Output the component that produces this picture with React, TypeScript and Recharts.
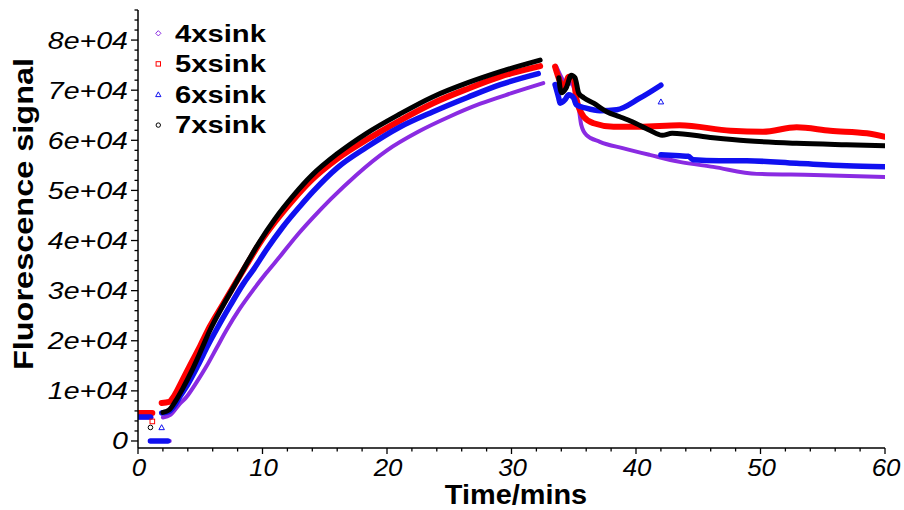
import { ComposedChart, Legend, Line, Scatter, XAxis, YAxis } from "recharts";

const FONT = '"Liberation Sans", Arial, Helvetica, sans-serif';

type Pt = [number, number | null];

// 4xsink (purple)
const sink4: Pt[] = [
  [0, 4700], [1.1, 4700], [1.11, null],
  [0.95, 0], [2.55, 0], [2.56, null],
  [2.0, 4700], [2.6, 5200], [3.35, 7400], [3.9, 8800], [4.7, 11700], [5.5, 14900],
  [6.3, 18500], [7.1, 22100], [8.2, 26500], [9.24, 30100], [10.3, 33500], [11.4, 36800],
  [12.7, 40800], [14.07, 44600], [15.5, 48300], [17.5, 53000], [20, 58000], [22.5, 61700],
  [25, 64700], [27.5, 67300], [30, 69400], [32.55, 71400], [33, null],
  [33.6, 74700], [33.9, 73100], [34.2, 71700], [34.4, 71100], [34.8, 71400], [35.1, 69700],
  [35.4, 66400], [35.6, 63100], [36.0, 61100], [37.1, 59700], [39.0, 58400], [41.1, 57100],
  [43.5, 55700], [46.2, 54700], [49.7, 53300], [54.3, 53100], [60, 52700],
];

// 5xsink (red)
const sink5: Pt[] = [
  [0, 5600], [1.15, 5600], [1.16, null],
  [1.9, 7600], [2.5, 7800], [2.85, 8800], [3.5, 11800], [4.2, 15200], [5.0, 19000],
  [5.76, 22800], [6.8, 27200], [7.9, 31800], [8.8, 35500], [9.78, 39500], [11.0, 43700],
  [12.46, 48100], [14.0, 52200], [16.0, 56300], [18.36, 60100], [21.0, 63900], [23.7, 67400],
  [26.5, 70300], [29.1, 72700], [32.3, 74800], [33, null],
  [33.5, 74700], [33.9, 71700], [34.2, 70400], [34.6, 72700], [35.0, 72400], [35.2, 68400],
  [35.8, 64700], [36.6, 63400], [38.2, 62700], [40.3, 62700], [43.5, 63000], [47.6, 61900],
  [50.2, 61700], [52.9, 62600], [55.6, 61900], [58.55, 61400], [60, 60700],
];

// 6xsink (blue)
const sink6: Pt[] = [
  [0, 4800], [1.0, 4800], [1.01, null],
  [1.0, 0], [2.4, 0], [2.41, null],
  [1.9, 5600], [2.5, 5900], [3.0, 7300], [3.35, 8800], [4.0, 11300], [4.8, 15000],
  [5.6, 19000], [6.43, 22800], [7.4, 27000], [8.44, 31300], [9.3, 34300], [10.3, 38100],
  [11.6, 42600], [13.0, 46800], [14.07, 49800], [16.0, 54500], [18.36, 58600], [21.0, 62600],
  [23.7, 65700], [26.5, 68600], [29.1, 71100], [32.15, 73300], [33, null],
  [33.5, 71100], [33.8, 68400], [33.9, 67400], [34.3, 68100], [34.6, 69100], [35.0, 68400],
  [35.2, 67100], [36.0, 66400], [37.1, 65900], [38.45, 66100], [40.3, 68400], [42.0, 71000],
  [42.01, null],
  [42.0, 57100], [43.5, 56900], [44.2, 56800], [44.6, 56100], [46.7, 55900], [48.9, 55900],
  [52.9, 55400], [56.9, 54900], [60, 54700],
];

// 7xsink (black)
const sink7: Pt[] = [
  [2.0, 5700], [2.5, 6200], [3.0, 7900], [3.6, 10500], [4.3, 13900], [5.0, 17700],
  [5.76, 22000], [6.8, 26900], [7.9, 31700], [8.8, 35700], [9.78, 39800], [11.0, 44300],
  [12.46, 48900], [14.0, 53100], [16.0, 57300], [18.36, 61400], [21.0, 65200], [23.7, 68700],
  [26.5, 71500], [29.1, 73700], [32.3, 76000], [33, null],
  [33.8, 72500], [34.0, 69500], [34.4, 70500], [34.8, 73000], [35.1, 72500], [35.4, 69400],
  [35.8, 68500], [36.6, 67400], [37.65, 65700], [38.7, 64700], [39.7, 63700], [41.1, 62000],
  [42.1, 61000], [42.9, 61400], [46.2, 60500], [48.9, 59900], [52.9, 59400], [56.9, 59100],
  [60, 58900],
];

// lone markers that sit apart from the dense runs
const lone4: Pt[] = [];
const lone5: Pt[] = [[1.15, 3900]];
const lone6: Pt[] = [[1.9, 2700], [42.0, 67700]];
const lone7: Pt[] = [[1.0, 2700]];

const X_MAJOR = [0, 10, 20, 30, 40, 50, 60];
const X_LABELS = ["0", "10", "20", "30", "40", "50", "60"];
const Y_MAJOR = [0, 10000, 20000, 30000, 40000, 50000, 60000, 70000, 80000];
const Y_LABELS = ["0", "1e+04", "2e+04", "3e+04", "4e+04", "5e+04", "6e+04", "7e+04", "8e+04"];

const X_TICKS: number[] = [];
for (let t = 0; t <= 60; t += 2) X_TICKS.push(t);
const Y_TICKS: number[] = [];
for (let v = 0; v <= 86000; v += 2000) Y_TICKS.push(v);

type Kind = "diamond" | "square" | "triangle" | "circle";

const SERIES: { name: string; color: string; width: number; kind: Kind; pts: Pt[]; lone: Pt[] }[] = [
  { name: "4xsink", color: "#8A2BE2", width: 4, kind: "diamond", pts: sink4, lone: lone4 },
  { name: "5xsink", color: "#FF0000", width: 6, kind: "square", pts: sink5, lone: lone5 },
  { name: "6xsink", color: "#1010F0", width: 5.5, kind: "triangle", pts: sink6, lone: lone6 },
  { name: "7xsink", color: "#000000", width: 5, kind: "circle", pts: sink7, lone: lone7 },
];

const rows = (pts: Pt[]) => pts.map(([t, v]) => ({ t, v }));

function marker(kind: Kind, color: string, cx: number, cy: number, r = 2.3) {
  const common = { fill: "none", stroke: color, strokeWidth: 1 };
  if (kind === "diamond") {
    const d = r * 1.2;
    return <polygon points={`${cx},${cy - d} ${cx + d},${cy} ${cx},${cy + d} ${cx - d},${cy}`} {...common} />;
  }
  if (kind === "square") return <rect x={cx - r} y={cy - r} width={r * 2} height={r * 2} {...common} />;
  if (kind === "triangle") {
    const d = r * 1.2;
    return <polygon points={`${cx},${cy - d} ${cx + d},${cy + d * 0.8} ${cx - d},${cy + d * 0.8}`} {...common} />;
  }
  return <circle cx={cx} cy={cy} r={r} {...common} />;
}

function YTick(props: any) {
  const { x, y, payload } = props;
  const i = Y_MAJOR.indexOf(payload.value);
  const major = i >= 0;
  return (
    <g>
      <line x1={x - (major ? 7 : 3.5)} x2={x} y1={y} y2={y} stroke="#000" strokeWidth={1.3} />
      {major && (
        <g transform={`translate(${x - 10},${y + 8.5}) scale(1.19,1)`}>
          <text textAnchor="end" fontFamily={FONT} fontStyle="italic" fontSize={24} fill="#000">
            {Y_LABELS[i]}
          </text>
        </g>
      )}
    </g>
  );
}

function XTick(props: any) {
  const { x, y, payload } = props;
  const i = X_MAJOR.indexOf(payload.value);
  const major = i >= 0;
  return (
    <g>
      <line x1={x} x2={x} y1={y} y2={y + (major ? 6 : 3.5)} stroke="#000" strokeWidth={1.3} />
      {major && (
        <g transform={`translate(${x + 1},${y + 28}) scale(1.1,1)`}>
          <text textAnchor="middle" fontFamily={FONT} fontStyle="italic" fontSize={23.5} fill="#000">
            {X_LABELS[i]}
          </text>
        </g>
      )}
    </g>
  );
}

function LegendBox() {
  return (
    <svg width={300} height={150} style={{ display: "block" }}>
      {SERIES.map((s, i) => {
        const cy = 33.3 + i * 30.6;
        return (
          <g key={s.name}>
            {marker(s.kind, s.color, 158.3, cy, 2.2)}
            <g transform={`translate(175,${cy + 8.3}) scale(1.27,1)`}>
              <text fontFamily={FONT} fontWeight="bold" fontSize={23} fill="#000">
                {s.name}
              </text>
            </g>
          </g>
        );
      })}
    </svg>
  );
}

export default function App() {
  return (
    <div style={{ position: "absolute", left: 0, top: 0, width: 904, height: 510, background: "#fff" }}>
      <ComposedChart width={904} height={510} margin={{ top: 10, right: 19, bottom: 0, left: 0 }}>
        <XAxis
          type="number"
          dataKey="t"
          domain={[0, 60]}
          ticks={X_TICKS}
          interval={0}
          allowDataOverflow
          height={62}
          tickSize={0}
          tickMargin={0}
          tickLine={false}
          axisLine={{ stroke: "#000", strokeWidth: 1.5 }}
          tick={<XTick />}
          label={{
            content: () => (
              <g transform="translate(516,504) scale(1.05,1)">
                <text textAnchor="middle" fontFamily={FONT} fontWeight="bold" fontSize={27.5} fill="#000">
                  Time/mins
                </text>
              </g>
            ),
          }}
        />
        <YAxis
          type="number"
          dataKey="v"
          domain={[-1400, 86000]}
          ticks={Y_TICKS}
          interval={0}
          allowDataOverflow
          width={138}
          tickSize={0}
          tickMargin={0}
          tickLine={false}
          axisLine={{ stroke: "#000", strokeWidth: 1.5 }}
          tick={<YTick />}
          label={{
            content: () => (
              <g transform="translate(33,214) rotate(-90) scale(1.16,1)">
                <text textAnchor="middle" fontFamily={FONT} fontWeight="bold" fontSize={28} fill="#000">
                  Fluorescence signal
                </text>
              </g>
            ),
          }}
        />
        <Legend
          layout="horizontal"
          verticalAlign="middle"
          align="center"
          wrapperStyle={{ left: 0, top: 0, width: 300, height: 150 }}
          content={() => <LegendBox />}
        />
        {SERIES.map((s) => (
          <Line
            key={s.name}
            name={s.name}
            data={rows(s.pts)}
            dataKey="v"
            type="monotoneX"
            stroke={s.color}
            strokeWidth={s.width}
            strokeLinejoin="round"
            strokeLinecap="round"
            dot={false}
            activeDot={false}
            isAnimationActive={false}
          />
        ))}
        {SERIES.filter((s) => s.lone.length > 0).map((s) => (
          <Scatter
            key={s.name + "-lone"}
            name={s.name + "-lone"}
            data={rows(s.lone)}
            dataKey="v"
            isAnimationActive={false}
            shape={(p: any) => marker(s.kind, s.color, p.cx, p.cy)}
          />
        ))}
      </ComposedChart>
    </div>
  );
}
